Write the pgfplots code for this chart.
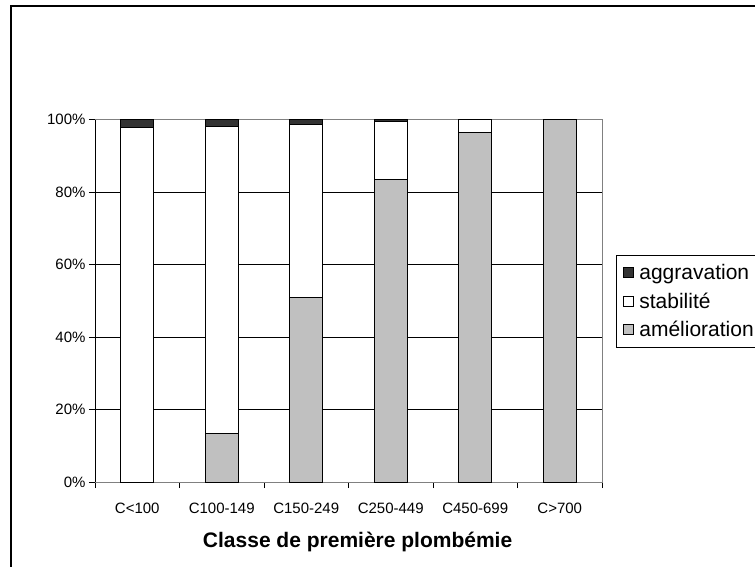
\documentclass[border=0pt]{standalone}
\usepackage{pgfplots}
\pgfplotsset{compat=1.18}
\usepackage{fontspec}
\setmainfont{Liberation Sans}
\definecolor{aggr}{RGB}{51,51,51}
\definecolor{amel}{RGB}{192,192,192}
\definecolor{frame}{RGB}{128,128,128}

\begin{document}
\begin{tikzpicture}
\begin{axis}[
    scale only axis,
    width=507pt, height=362.5pt,
    ybar stacked,
    bar width=0.386,
    xmin=-0.5, xmax=5.5,
    ymin=0, ymax=100,
    enlargelimits=false,
    axis line style={frame},
    xtick={-0.5,0.5,1.5,2.5,3.5,4.5,5.5},
    x tick label as interval,
    xticklabels={C<100, C100-149, C150-249, C250-449, C450-699, C>700},
    xticklabel style={yshift=-11pt},
    ytick={0,20,40,60,80,100},
    yticklabel={\pgfmathprintnumber{\tick}\%},
    /pgf/number format/assume math mode=true,
    xtick pos=bottom, ytick pos=left,
    tick align=outside,
    major tick length=6pt,
    tick style={black, line width=0.8pt},
    ymajorgrids,
    major grid style={black, line width=0.8pt},
    tick label style={font=\fontsize{15}{18}\selectfont},
    xlabel={Classe de première plombémie},
    xlabel style={font=\fontsize{21}{24}\selectfont\bfseries,
        at={(axis description cs:0.518,0)}, anchor=center, yshift=-60pt},
    reverse legend,
    legend style={at={(1.0276,0.626)}, anchor=north west,
        font=\fontsize{21}{24}\selectfont, draw=black, line width=0.8pt,
        legend cell align=left, inner xsep=1pt, inner ysep=7pt, row sep=7.5pt},
    legend image code/.code={
        \path (0pt,0pt) (19pt,0pt);
        \draw[#1, line width=0.8pt] (6pt,-5pt) rectangle (16pt,5pt);},
    every axis plot/.append style={draw=black, line width=1pt},
]
\addplot[fill=amel] coordinates {(0,0) (1,13.5) (2,51) (3,83.5) (4,96.5) (5,100)};
\addplot[fill=white] coordinates {(0,97.7) (1,84.7) (2,47.6) (3,16) (4,3.5) (5,0)};
\addplot[fill=aggr] coordinates {(0,2.3) (1,1.8) (2,1.4) (3,0.5) (4,0) (5,0)};
\legend{amélioration, stabilité, aggravation}
\draw[black, line width=0.8pt] (rel axis cs:0,0) -- (rel axis cs:0,1);
\end{axis}
\draw[black, line width=1.3pt] (-84pt,-100pt) -- (-84pt,476pt) -- (700pt,476pt);
\pgfresetboundingbox
\path[use as bounding box] (-95pt,-84pt) rectangle (660pt,482pt);
\end{tikzpicture}
\end{document}
